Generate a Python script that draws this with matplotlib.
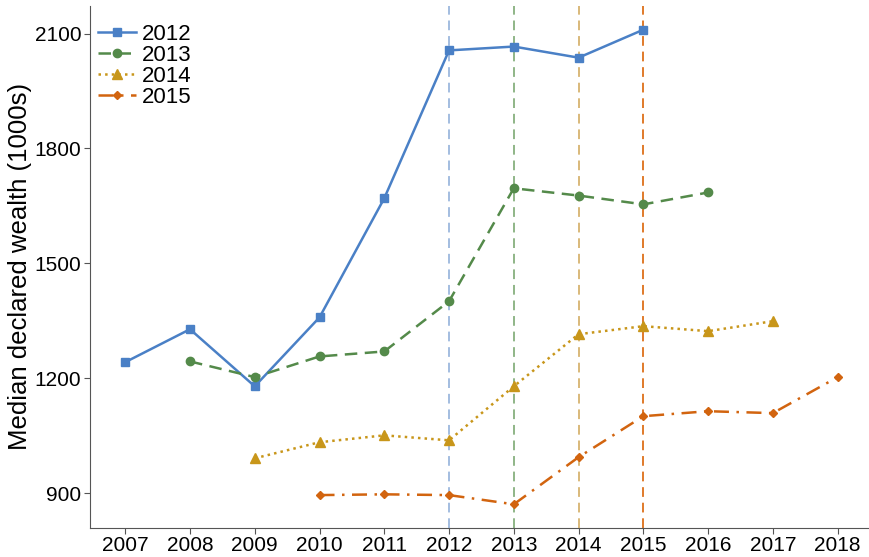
import matplotlib
matplotlib.use("Agg")
import matplotlib.pyplot as plt

plt.rcParams["font.family"] = ["Liberation Sans", "DejaVu Sans"]

years_2012 = [2007, 2008, 2009, 2010, 2011, 2012, 2013, 2014, 2015]
wealth_2012 = [1242, 1328, 1179, 1359, 1670, 2056, 2066, 2037, 2110]

years_2013 = [2008, 2009, 2010, 2011, 2012, 2013, 2014, 2015, 2016]
wealth_2013 = [1244, 1203, 1257, 1270, 1401, 1696, 1677, 1654, 1685]

years_2014 = [2009, 2010, 2011, 2012, 2013, 2014, 2015, 2016, 2017]
wealth_2014 = [991, 1033, 1051, 1038, 1179, 1315, 1336, 1323, 1349]

years_2015 = [2010, 2011, 2012, 2013, 2014, 2015, 2016, 2017, 2018]
wealth_2015 = [895, 897, 895, 871, 994, 1101, 1114, 1109, 1203]

cohorts = ["2012", "2013", "2014", "2015"]
ref_years = [2012, 2013, 2014, 2015]

colors = ["#4a80c6", "#548a4a", "#c8961a", "#d2640f"]
vline_colors = ["#a3bde0", "#8fb587", "#d9b97a", "#e07a2a"]
styles = [("-", "s", 6), ((0, (5, 3)), "o", 6), (":", "^", 7), ((0, (6, 3, 1, 3)), "D", 4.5)]

fig, ax = plt.subplots(figsize=(8.7, 5.57), dpi=100)
fig.subplots_adjust(left=0.103, right=1.0, bottom=0.052, top=0.99)

for yr, c in zip(ref_years, vline_colors):
    ax.axvline(yr, color=c, linestyle=(0, (5, 3)), linewidth=1.4, zorder=1)

series = [(years_2012, wealth_2012), (years_2013, wealth_2013),
          (years_2014, wealth_2014), (years_2015, wealth_2015)]
for (xs, ys), lab, c, (ls, mk, ms) in zip(series, cohorts, colors, styles):
    ax.plot(xs, ys, linestyle=ls, marker=mk, markersize=ms, color=c,
            linewidth=1.8, label=lab, zorder=3)

ax.set_xlim(2006.45, 2018.5)
ax.set_ylim(809, 2173)
ax.set_xticks(range(2007, 2019))
ax.set_yticks([900, 1200, 1500, 1800, 2100])
ax.tick_params(labelsize=15, color="#555555", length=4, pad=2)
ax.set_ylabel("Median declared wealth (1000s)", fontsize=18.5, labelpad=2)

for s in ["top", "right"]:
    ax.spines[s].set_visible(False)
for s in ["left", "bottom"]:
    ax.spines[s].set_color("#555555")

ax.legend(loc="upper left", frameon=False, fontsize=16, labelspacing=0.0,
          handlelength=1.7, handletextpad=0.3, borderaxespad=0.0, borderpad=0.3,
          bbox_to_anchor=(0.002, 0.978))

fig.savefig("out.png", dpi=100)
